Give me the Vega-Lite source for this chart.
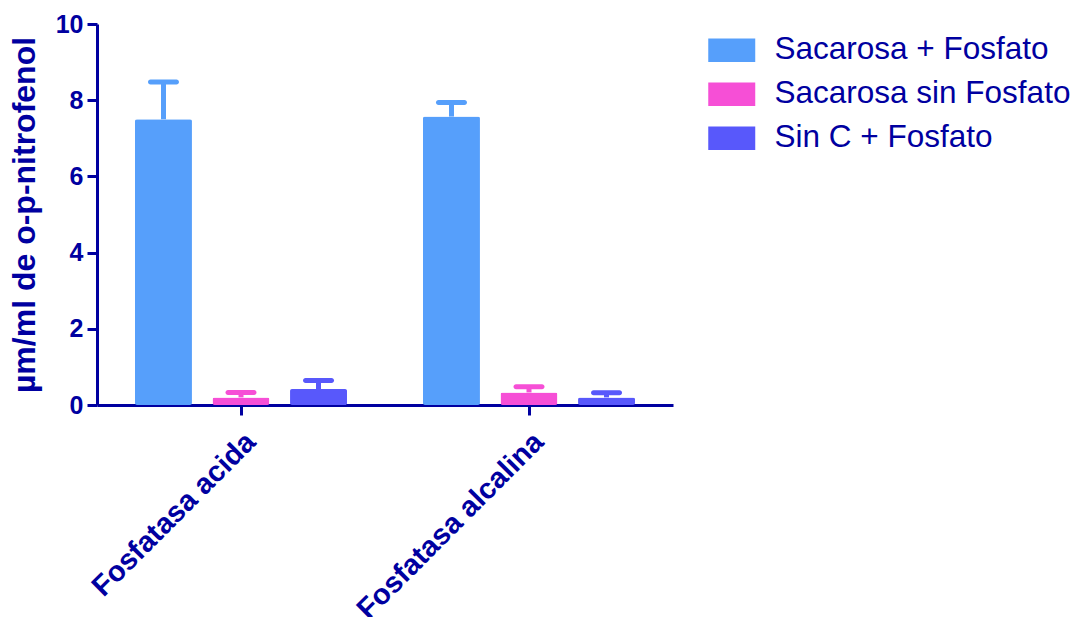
{
  "$schema": "https://vega.github.io/schema/vega-lite/v6.json",
  "width": 576,
  "height": 381,
  "autosize": {"type": "none"},
  "padding": {"left": 97, "top": 24, "right": 402, "bottom": 212},
  "background": "white",
  "config": {
    "view": {"stroke": null},
    "font": "Liberation Sans"
  },
  "data": {
    "values": [
      {"grupo": "Fosfatasa acida", "tratamiento": "Sacarosa + Fosfato", "media": 7.5, "superior": 8.48},
      {"grupo": "Fosfatasa acida", "tratamiento": "Sacarosa sin Fosfato", "media": 0.2, "superior": 0.33},
      {"grupo": "Fosfatasa acida", "tratamiento": "Sin C + Fosfato", "media": 0.42, "superior": 0.64},
      {"grupo": "Fosfatasa alcalina", "tratamiento": "Sacarosa + Fosfato", "media": 7.57, "superior": 7.94},
      {"grupo": "Fosfatasa alcalina", "tratamiento": "Sacarosa sin Fosfato", "media": 0.33, "superior": 0.48},
      {"grupo": "Fosfatasa alcalina", "tratamiento": "Sin C + Fosfato", "media": 0.2, "superior": 0.32}
    ]
  },
  "encoding": {
    "x": {
      "field": "grupo",
      "type": "nominal",
      "scale": {"paddingInner": 0, "paddingOuter": 0},
      "axis": {
        "title": null,
        "labelAngle": -45,
        "labelFont": "Liberation Sans",
        "labelFontWeight": "bold",
        "labelFontSize": 29,
        "labelColor": "#0000a0",
        "labelPadding": 12,
        "labelLimit": 0,
        "domainColor": "#0000a0",
        "domainWidth": 3,
        "tickColor": "#0000a0",
        "tickWidth": 3,
        "tickSize": 10
      }
    },
    "xOffset": {
      "field": "tratamiento",
      "type": "nominal",
      "scale": {"paddingInner": 0.265, "paddingOuter": 0.49}
    },
    "color": {
      "field": "tratamiento",
      "type": "nominal",
      "scale": {
        "domain": ["Sacarosa + Fosfato", "Sacarosa sin Fosfato", "Sin C + Fosfato"],
        "range": ["#569ffb", "#f64fd6", "#5858fb"]
      },
      "legend": {
        "title": null,
        "orient": "none",
        "legendX": 619,
        "legendY": 10.5,
        "padding": 0,
        "symbolType": "M-2,-1H2V1H-2Z",
        "symbolSize": 552,
        "symbolOpacity": 1,
        "symbolStrokeWidth": 0,
        "labelFont": "Liberation Sans",
        "labelFontSize": 31.5,
        "labelColor": "#0000a0",
        "labelOffset": 27,
        "rowPadding": 11,
        "labelLimit": 400
      }
    }
  },
  "layer": [
    {
      "mark": {"type": "rule", "strokeWidth": 5},
      "encoding": {
        "y": {"field": "media", "type": "quantitative"},
        "y2": {"field": "superior"}
      }
    },
    {
      "mark": {"type": "tick", "orient": "horizontal", "size": 31, "thickness": 5, "cornerRadius": 2.5, "opacity": 1},
      "encoding": {
        "y": {"field": "superior", "type": "quantitative"}
      }
    },
    {
      "mark": {"type": "bar", "width": {"band": 1}, "cornerRadius": 2},
      "encoding": {
        "y": {
          "field": "media",
          "type": "quantitative",
          "scale": {"domain": [0, 10], "nice": false},
          "axis": {
            "title": "µm/ml de o-p-nitrofenol",
            "titleFont": "Liberation Sans",
            "titleFontWeight": "bold",
            "titleFontSize": 32,
            "titleColor": "#0000a0",
            "titlePadding": 14,
            "values": [0, 2, 4, 6, 8, 10],
            "grid": false,
            "labelFont": "Liberation Sans",
            "labelFontWeight": "bold",
            "labelFontSize": 25,
            "labelColor": "#0000a0",
            "labelPadding": 4,
            "domainColor": "#0000a0",
            "domainWidth": 3,
            "tickColor": "#0000a0",
            "tickWidth": 3,
            "tickSize": 10
          }
        }
      }
    }
  ]
}
